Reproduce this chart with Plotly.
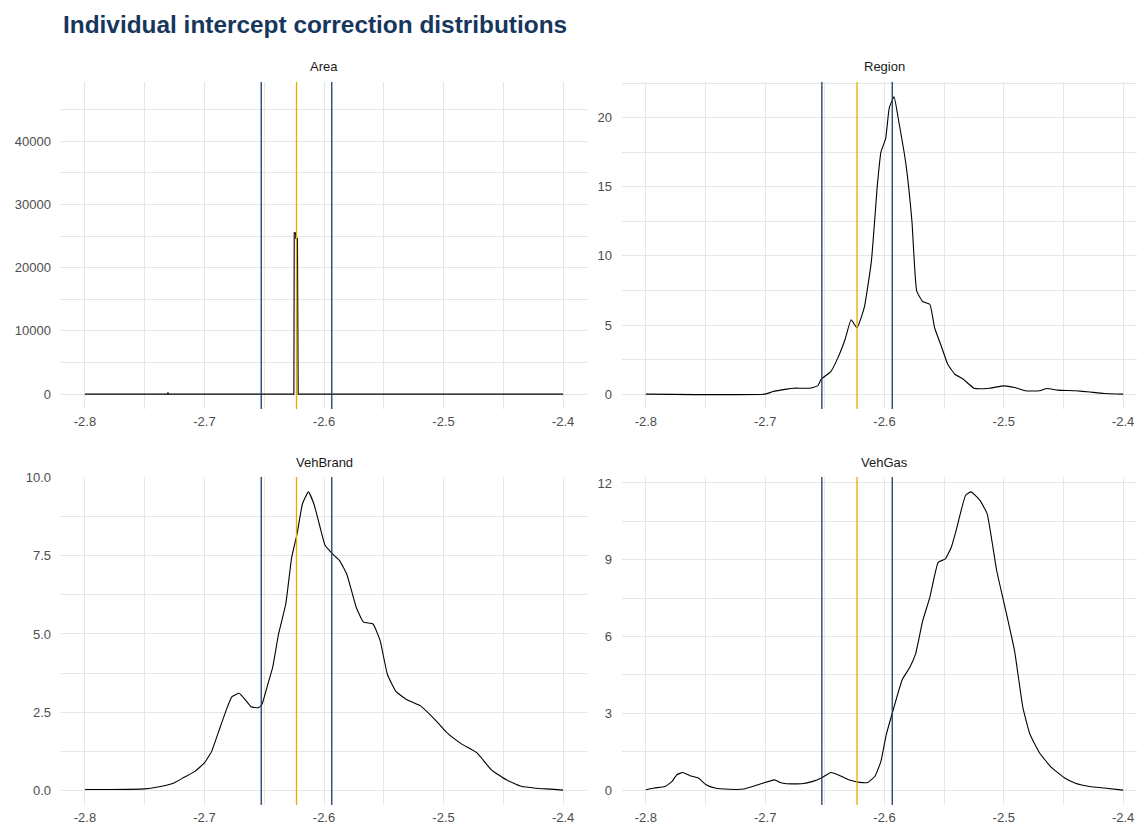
import plotly.graph_objects as go

# ---------------- data ----------------
panels = ["Area", "Region", "VehBrand", "VehGas"]

# reference lines (lower, mean, upper)
ref_lower = -2.6525
ref_mean = -2.623
ref_upper = -2.5935

x_ticks = [-2.8, -2.7, -2.6, -2.5, -2.4]
x_tick_labels = ["-2.8", "-2.7", "-2.6", "-2.5", "-2.4"]

area_x = [-2.8, -2.731, -2.7305, -2.7300, -2.6252, -2.6249, -2.6238, -2.6236, -2.6222, -2.6220, -2.6216, -2.4]
area_y = [0, 0, 250, 0, 0, 25500, 25500, 24600, 24600, 1150, 0, 0]
area_peak = 47000  # true density peak (sets the panel's scale)

region_x = [-2.8, -2.7, -2.694, -2.682, -2.676, -2.663, -2.656, -2.653, -2.645, -2.639, -2.633, -2.628,
            -2.623, -2.617, -2.611, -2.606, -2.603, -2.599, -2.596, -2.592, -2.588, -2.582, -2.577,
            -2.573, -2.568, -2.562, -2.558, -2.552, -2.547, -2.541, -2.534, -2.525, -2.512, -2.500,
            -2.491, -2.482, -2.470, -2.464, -2.455, -2.440, -2.428, -2.416, -2.4]
region_y = [0, 0, 0.17, 0.36, 0.43, 0.43, 0.6, 1.08, 1.63, 2.64, 3.97, 5.38,
            4.8, 6.25, 9.6, 15.1, 17.5, 18.5, 20.7, 21.5, 19.7, 16.6, 12.5,
            7.45, 6.7, 6.5, 4.8, 3.37, 2.16, 1.44, 1.08, 0.43, 0.43, 0.6,
            0.48, 0.24, 0.24, 0.41, 0.29, 0.24, 0.15, 0.05, 0]

vehbrand_x = [-2.8, -2.779, -2.750, -2.739, -2.726, -2.717, -2.708, -2.700, -2.694, -2.688, -2.681,
              -2.677, -2.671, -2.666, -2.661, -2.655, -2.652, -2.647, -2.643, -2.638, -2.632, -2.627,
              -2.6225, -2.618, -2.613, -2.6085, -2.604, -2.599, -2.593, -2.587, -2.581, -2.573, -2.567,
              -2.559, -2.553, -2.547, -2.540, -2.531, -2.519, -2.506, -2.497, -2.485, -2.472, -2.460,
              -2.4475, -2.435, -2.423, -2.410, -2.4]
vehbrand_y = [0.02, 0.02, 0.04, 0.1, 0.22, 0.41, 0.6, 0.87, 1.24, 1.89, 2.64,
              2.99, 3.1, 2.9, 2.67, 2.64, 2.74, 3.39, 3.92, 5.0, 5.96, 7.46,
              8.21, 9.17, 9.55, 9.17, 8.53, 7.83, 7.57, 7.35, 6.92, 5.85, 5.38,
              5.32, 4.78, 3.71, 3.17, 2.9, 2.69, 2.21, 1.83, 1.48, 1.19, 0.65,
              0.33, 0.12, 0.06, 0.03, 0]

vehgas_x = [-2.8, -2.793, -2.784, -2.778, -2.774, -2.769, -2.763, -2.756, -2.7495, -2.742, -2.730,
            -2.718, -2.706, -2.697, -2.692, -2.688, -2.682, -2.6695, -2.660, -2.653, -2.645, -2.639,
            -2.630, -2.621, -2.614, -2.608, -2.603, -2.5985, -2.5934, -2.589, -2.585, -2.579, -2.574,
            -2.568, -2.562, -2.555, -2.549, -2.544, -2.540, -2.532, -2.5275, -2.520, -2.514, -2.506,
            -2.499, -2.491, -2.484, -2.478, -2.470, -2.461, -2.449, -2.440, -2.428, -2.416, -2.4]
vehgas_y = [0.01, 0.08, 0.14, 0.34, 0.6, 0.69, 0.56, 0.47, 0.21, 0.08, 0.03,
            0.04, 0.21, 0.34, 0.4, 0.31, 0.25, 0.25, 0.34, 0.47, 0.69, 0.6,
            0.4, 0.3, 0.3, 0.54, 1.12, 2.17, 3.02, 3.74, 4.33, 4.78, 5.31,
            6.61, 7.53, 8.9, 9.03, 9.49, 10.14, 11.52, 11.65, 11.32, 10.8, 8.58,
            7.14, 5.44, 3.22, 2.17, 1.45, 0.93, 0.47, 0.27, 0.14, 0.08, 0]

y_ticks = {
    "Area": ([0, 10000, 20000, 30000, 40000], ["0", "10000", "20000", "30000", "40000"]),
    "Region": ([0, 5, 10, 15, 20], ["0", "5", "10", "15", "20"]),
    "VehBrand": ([0, 2.5, 5, 7.5, 10], ["0.0", "2.5", "5.0", "7.5", "10.0"]),
    "VehGas": ([0, 3, 6, 9, 12], ["0", "3", "6", "9", "12"]),
}

series = {
    "Area": (area_x, area_y, area_peak),
    "Region": (region_x, region_y, max(region_y)),
    "VehBrand": (vehbrand_x, vehbrand_y, max(vehbrand_y)),
    "VehGas": (vehgas_x, vehgas_y, max(vehgas_y)),
}

# ---------------- styling / layout ----------------
PAGE_W, PAGE_H = 1145, 832
BODY = 8  # default page margin around the plot div
W, H = PAGE_W - 2 * BODY, PAGE_H - 2 * BODY


def px(xp):
    return (xp - BODY) / W


def py(yp):
    return 1 - (yp - BODY) / H


FONT = "Liberation Sans, Arial, sans-serif"
GRID = "#E6E6E6"
TICK_COL = "#4D4D4D"
BLUE = "#1F3B63"
GOLD = "#E8A800"

# panel pixel boxes (left, right) ; right column is cut by the page edge
LEFT_COL = (61, 587)
RIGHT_COL = (622, 1147)
VISIBLE_RIGHT = PAGE_W - BODY

x_doms = [(px(LEFT_COL[0]), px(LEFT_COL[1])), (px(RIGHT_COL[0]), 1.0)] * 2
y_doms = [(py(409), py(82)), (py(409), py(82)), (py(805), py(477)), (py(805), py(477))]
strip_y = [py(67), py(67), py(462), py(462)]

x_lo, x_hi = min(x_ticks), max(x_ticks)
x_pad = 0.05 * (x_hi - x_lo)
full_range = [x_lo - x_pad, x_hi + x_pad]
cut_frac = (VISIBLE_RIGHT - RIGHT_COL[0]) / (RIGHT_COL[1] - RIGHT_COL[0])
cut_range = [full_range[0], full_range[0] + (full_range[1] - full_range[0]) * cut_frac]
x_ranges = [full_range, cut_range, full_range, cut_range]
strip_x = [(LEFT_COL[0] + LEFT_COL[1]) / 2, (RIGHT_COL[0] + RIGHT_COL[1]) / 2] * 2

fig = go.Figure()
layout = dict(
    width=W, height=H,
    margin=dict(l=0, r=0, t=0, b=0),
    paper_bgcolor="white", plot_bgcolor="white",
    showlegend=False,
    font=dict(family=FONT, color=TICK_COL, size=13),
)
shapes = []
annotations = []

for i, name in enumerate(panels):
    k = "" if i == 0 else str(i + 1)
    xs, ys, peak = series[name]
    if name == "Area":
        line = dict(color="black", width=1.1)
    else:
        line = dict(color="black", width=1.1, shape="spline", smoothing=0.4)
    fig.add_trace(go.Scatter(x=xs, y=ys, mode="lines", line=line,
                             xaxis="x" + k, yaxis="y" + k, hoverinfo="skip"))
    tv, tt = y_ticks[name]
    ystep = tv[1] - tv[0]
    layout["xaxis" + k] = dict(
        domain=list(x_doms[i]), anchor="y" + k,
        range=x_ranges[i],
        tickmode="array", tickvals=x_ticks, ticktext=x_tick_labels,
        showgrid=True, gridcolor=GRID, gridwidth=1.1,
        minor=dict(showgrid=True, gridcolor=GRID, gridwidth=0.7,
                   tickmode="linear", tick0=x_lo, dtick=(x_ticks[1] - x_ticks[0]) / 2),
        zeroline=False, showline=False, ticks="",
        ticklabelstandoff=3, automargin=False,
        tickfont=dict(size=13, color=TICK_COL, family=FONT),
        fixedrange=True,
    )
    layout["yaxis" + k] = dict(
        domain=list(y_doms[i]), anchor="x" + k,
        range=[-0.05 * peak, 1.05 * peak],
        tickmode="array", tickvals=tv, ticktext=tt,
        showgrid=True, gridcolor=GRID, gridwidth=1.1,
        minor=dict(showgrid=True, gridcolor=GRID, gridwidth=0.7,
                   tickmode="linear", tick0=0, dtick=ystep / 2),
        zeroline=False, showline=False, ticks="",
        ticklabelstandoff=9, automargin=False,
        tickfont=dict(size=13, color=TICK_COL, family=FONT),
        fixedrange=True,
    )
    for xv, col in [(ref_lower, BLUE), (ref_mean, GOLD), (ref_upper, BLUE)]:
        shapes.append(dict(type="line", xref="x" + k, yref="y" + k + " domain",
                           x0=xv, x1=xv, y0=0, y1=1,
                           line=dict(color=col, width=1.3), layer="above"))
    annotations.append(dict(text=name, xref="paper", yref="paper",
                            x=px(strip_x[i]), y=strip_y[i],
                            xanchor="center", yanchor="middle", showarrow=False,
                            font=dict(size=13, color="#1A1A1A", family=FONT)))

annotations.append(dict(text="<b>Individual intercept correction distributions</b>",
                        xref="paper", yref="paper", x=px(61), y=py(24),
                        xanchor="left", yanchor="middle", showarrow=False,
                        font=dict(size=24.4, color="#17365D", family=FONT)))

layout["shapes"] = shapes
layout["annotations"] = annotations
fig.update_layout(**layout)

fig.write_html("out.html", config={"displayModeBar": False})
